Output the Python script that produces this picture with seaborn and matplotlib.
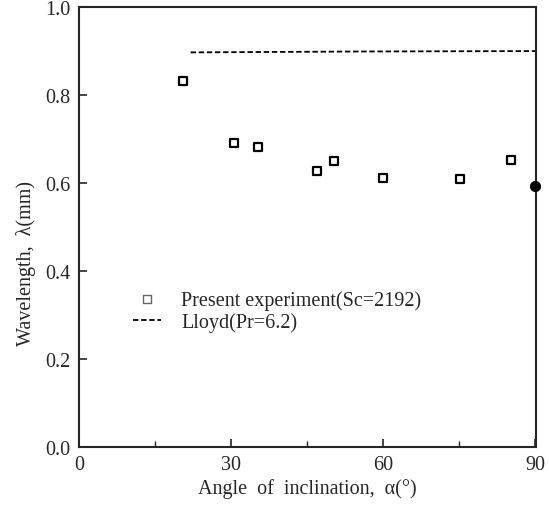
import numpy as np
import pandas as pd
import matplotlib
matplotlib.use("Agg")
import matplotlib.pyplot as plt
import seaborn as sns
from matplotlib.ticker import MultipleLocator

# measured wavelengths (open squares)
angle = [20.5, 30.5, 35.3, 47.0, 50.2, 60.0, 75.2, 85.2]
wavelength = [0.832, 0.690, 0.682, 0.627, 0.650, 0.611, 0.610, 0.652]
# vertical case (filled marker on the right axis)
angle_vert = [90.0]
wavelength_vert = [0.593]
# Lloyd (Pr=6.2)
lloyd_angle = [22.0, 55.0, 90.0]
lloyd_wavelength = [0.897, 0.899, 0.900]

sns.set_style("ticks")
plt.rcParams['font.family'] = ['Liberation Serif', 'DejaVu Serif']

FS = 14.5

fig = plt.figure(figsize=(5.49, 5.06), dpi=100)
ax = fig.add_axes([0.144, 0.115, 0.832, 0.869])

exp = pd.DataFrame({'angle': angle, 'wl': wavelength})
sns.scatterplot(data=exp, x='angle', y='wl', ax=ax, marker='s', s=30,
                facecolor='white', edgecolor='black', linewidth=1.6,
                label='Present experiment(Sc=2192)', zorder=3)
sns.scatterplot(x=angle_vert, y=wavelength_vert, ax=ax, marker='o', s=55,
                color='black', edgecolor='black', zorder=4, clip_on=False)
sns.lineplot(x=lloyd_angle, y=lloyd_wavelength, ax=ax, color='black',
             linestyle=(0, (3, 1.5)), linewidth=1.3, label='Lloyd(Pr=6.2)')

ax.set_xlim(0, 90.1)
ax.set_ylim(0, 1.0)
ax.xaxis.set_major_locator(MultipleLocator(30))
ax.xaxis.set_minor_locator(MultipleLocator(15))
ax.yaxis.set_major_locator(MultipleLocator(0.2))
ax.set_yticklabels([f'{v:.1f}' for v in ax.get_yticks()])
ax.tick_params(axis='both', which='major', direction='in', length=6, width=1.2,
               labelsize=FS, pad=6)
ax.tick_params(axis='both', which='minor', direction='in', length=4, width=1.0)
ax.tick_params(axis='y', which='minor', length=0)
for s in ax.spines.values():
    s.set_linewidth(1.5)
    s.set_visible(True)

ax.set_xlabel('Angle  of  inclination,  α(°)', fontsize=FS, labelpad=3)
ax.set_ylabel('Wavelength,  λ(mm)', fontsize=FS, labelpad=6)
ax.yaxis.set_label_coords(-0.095, 0.42)

leg = ax.legend(loc='upper left', bbox_to_anchor=(0.1, 0.375), frameon=False,
                fontsize=FS, handlelength=1.4, handletextpad=1.0,
                borderaxespad=0, labelspacing=0.15)
for h in leg.legend_handles:
    try:
        h.set_edgecolor('0.4')
        h.set_linewidth(1.0)
    except Exception:
        pass

fig.savefig('out.png', dpi=100)
